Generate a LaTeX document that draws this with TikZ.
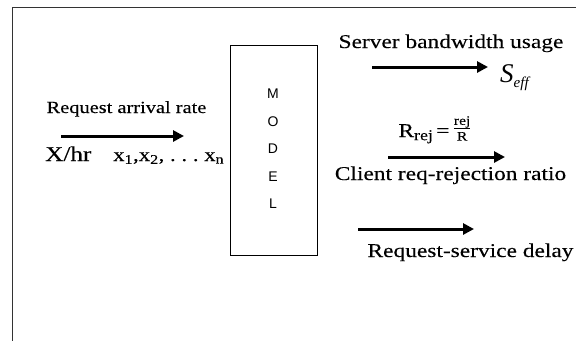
\documentclass[tikz,border=0pt]{standalone}
\usepackage{fontspec}
\setmainfont{Liberation Serif}
\newfontfamily\wf[FakeStretch=1.2,FakeBold=0.15]{Liberation Serif}
\newfontfamily\lsans{Liberation Sans}
\usetikzlibrary{arrows.meta}
\begin{document}
\begin{tikzpicture}[x=1pt,y=-1pt,
  arr/.style={line width=3pt,-{Triangle[length=11pt,width=11pt]}},
  lbl/.style={inner sep=0pt,anchor=base},
  lft/.style={font=\wf\fontsize{17}{20}\selectfont},
  rgt/.style={font=\wf\fontsize{19.5}{23}\selectfont},
  letter/.style={inner sep=0pt,anchor=base,font=\lsans\fontsize{14}{16}\selectfont}]
\useasboundingbox (0,0) rectangle (576,341);
\fill[white] (0,0) rectangle (576,341);
% outer frame
\draw[line width=1pt,black!80] (576,7) -- (12,7) -- (12,341);
% model box
\node[draw,line width=1pt,minimum width=87pt,minimum height=210pt,inner sep=0pt] (model) at (273.5,150) {};
\foreach \t/\yy [count=\i] in {M/98,O/126,D/153.5,E/181,L/208.5}
  \node[letter] (m\i) at (273,\yy) {\t};
% left input
\coordinate (a1s) at (61,136);
\coordinate (a1e) at (184,136);
\draw[arr] (a1s) -- (a1e);
\node[lbl,lft] (req) at (126.5,113) {Request arrival rate};
\node[lbl,anchor=base west,font=\wf\fontsize{21}{24}\selectfont] (xhr) at (45,161) {X/hr};
\node[lbl,anchor=base west,font=\wf\fontsize{19}{22}\selectfont] (xs) at (113,161)
  {x\textsubscript{1},x\textsubscript{2}, .\ .\ .\ x\textsubscript{n}};
% server bandwidth
\coordinate (a2s) at (372,67);
\coordinate (a2e) at (488,67);
\draw[arr] (a2s) -- (a2e);
\node[lbl,rgt] (srv) at (451,48) {Server bandwidth usage};
\node[lbl,anchor=base west,font=\fontsize{27}{30}\selectfont] (seff) at (500,82)
  {\itshape S\raisebox{-0.45ex}{\fontsize{15}{17}\selectfont eff}};
% rejection ratio
\node[lbl,rgt] (rrej) at (435,137)
  {R\raisebox{-0.35ex}{\fontsize{15}{17}\selectfont rej}\,=\,\raisebox{0.4ex}{$\frac{\hbox{\wf\fontsize{13}{14}\selectfont rej}}{\hbox{\wf\fontsize{13}{14}\selectfont R}}$}};
\coordinate (a3s) at (388,157);
\coordinate (a3e) at (505,157);
\draw[arr] (a3s) -- (a3e);
\node[lbl,rgt] (cli) at (450.5,180) {Client req-rejection ratio};
% delay
\coordinate (a4s) at (358,229);
\coordinate (a4e) at (474,229);
\draw[arr] (a4s) -- (a4e);
\node[lbl,rgt] (del) at (470.5,257) {Request-service delay};
\end{tikzpicture}
\end{document}
